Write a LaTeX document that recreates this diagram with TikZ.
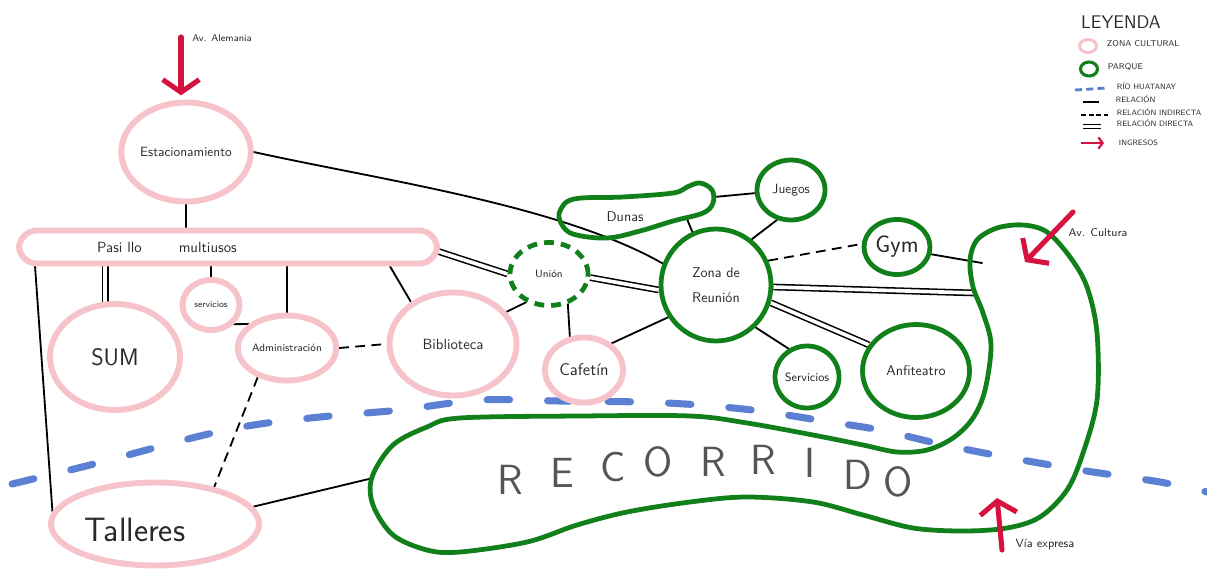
\documentclass[tikz,border=0pt]{standalone}
\usetikzlibrary{shapes.geometric,arrows.meta,calc}
\pgfdeclarelayer{bottom}
\pgfdeclarelayer{back}
\pgfsetlayers{bottom,back,main}
\definecolor{zpink}{HTML}{F7C3CB}
\definecolor{zgreen}{HTML}{12801A}
\definecolor{zblue}{HTML}{5B7FD3}
\definecolor{zred}{HTML}{D6123F}
\definecolor{ztext}{HTML}{2A2A2A}
\definecolor{zrec}{HTML}{555555}
\begin{document}
\begin{tikzpicture}[x=0.025cm,y=-0.025cm,
  every node/.style={font=\sffamily, text=ztext},
  fs/.style={font=\sffamily\fontsize{#1}{#1}\selectfont},
  sz/.style 2 args={minimum width=#1*0.025cm, minimum height=#2*0.025cm},
  cultural/.style={ellipse, draw=zpink, line width=4.2pt, inner sep=0pt},
  parque/.style={ellipse, draw=zgreen, line width=3.4pt, inner sep=0pt},
  conn/.style={draw=black, line width=1.3pt, line cap=round},
  indirecta/.style={draw=black, line width=1.3pt, dash pattern=on 7pt off 4.5pt},
  directa/.style={draw=black, line width=1.1pt, double=white, double distance=2.6pt},
  ingreso/.style={draw=zred, line width=3.6pt, line cap=round, -{Straight Barb[length=9pt,width=26pt]}},
  rio/.style={draw=zblue, line width=5pt, line cap=round, dash pattern=on 16pt off 27pt}]

\begin{pgfonlayer}{bottom}
\fill[white] (0,0) rectangle (1207,570);
\end{pgfonlayer}
\useasboundingbox (0,0) rectangle (1207,570);

% river
\draw[rio] plot[smooth] coordinates {(12,484) (90,465) (200,436) (260,424) (330,416) (400,410) (480,400) (560,401) (640,402) (700,405) (760,411) (830,422) (880,430) (940,444) (1000,456) (1080,470) (1160,482) (1207,492)};

% cultural zones
\node[cultural, sz={128}{99}, fs=9.5] (est) at (186,152) {Estacionamiento};
\node[draw=zpink, line width=4.2pt, rounded corners=0.45cm, sz={418}{33}] (pas) at (228,247) {};
\node[fs=10.5] (pastxt) at (167,247) {Pasi llo\hspace{2.5em}multiusos};
\node[cultural, sz={130}{106}, fs=17] (sum) at (115,357) {SUM};
\node[cultural, sz={57}{50}, fs=6.5] (s1) at (211,305) {servicios};
\node[cultural, sz={87}{65}, fs=7.5] (adm) at (287,348) {Administración};
\node[cultural, sz={127}{103}, fs=10.5] (bib) at (453,344) {Biblioteca};
\node[cultural, sz={78}{65}, fs=12] (caf) at (584,370) {Cafetín};
\node[cultural, sz={208}{83}] (tal) at (155,524) {};
\node[fs=24] (taltxt) at (135,530) {Talleres};

% parks
\node[parque, sz={78}{63}, fs=7.5, dash pattern=on 7pt off 5pt] (un) at (549,274) {Unión};
\node[parque, sz={68}{60}, fs=9.5] (jue) at (791,190) {Juegos};
\node[parque, sz={110}{112}, fs=10, align=center, font=\sffamily\fontsize{10}{18}\selectfont] (zona) at (716,285) {Zona de\\Reunión};
\node[parque, sz={64}{62}, fs=8.5] (s2) at (807,377) {Servicios};
\node[parque, sz={66}{55}, fs=17] (gym) at (897,247) {Gym};
\node[parque, sz={107}{93}, fs=10] (anf) at (916,371) {Anfiteatro};

% Dunas blob
\draw[zgreen, line width=3.4pt] plot[smooth cycle, tension=0.6] coordinates {(560,211) (574,199) (623,197) (673,193) (687,187) (700,183) (712,190) (713,203) (703,213) (673,221) (640,231) (607,238) (573,234) (561,223)};
\node[fs=10] (dunas) at (625,217) {Dunas};
\coordinate (dunasB) at (687,219);
\coordinate (dunasR) at (714,197);

% Recorrido shape
\draw[zgreen, line width=3.4pt] plot[smooth cycle, tension=0.55] coordinates {(372,477) (393,445) (427,427) (460,418) (580,416) (690,416) (747,423) (813,435) (863,445) (897,452) (927,450) (953,438) (973,418) (985,390) (991,345) (983,313) (973,287) (970,260) (977,240) (997,228) (1023,225) (1047,232) (1070,257) (1087,287) (1097,333) (1097,400) (1083,453) (1067,490) (1040,517) (1007,528) (963,531) (913,528) (863,515) (813,502) (747,497) (690,502) (627,512) (577,525) (527,542) (460,552) (427,550) (393,535) (373,505)};
\coordinate (recL) at (373,478);
\coordinate (uGym) at (982,263);
\coordinate (uZona) at (975,293);
\foreach \c/\x/\y [count=\i] in {R/510/480, E/562/473, C/613/467, O/658/462, R/713/462, R/763/460, I/810/463, D/858/475, O/898/482}
  \node[fs=30, text=zrec] (rc\i) at (\x,\y) {\c};

% connectors
\begin{pgfonlayer}{back}
\draw[conn] (est.east) .. controls (380,180) and (560,205) .. (zona.158);
\draw[conn] (est.south) -- (est.south |- pas.north);
\draw[conn] ($(pas.south west)+(19,0)$) -- (tal.173);
\draw[directa] (sum.100) -- (sum.100 |- pas.south);
\draw[conn] (s1.north) -- (s1.north |- pas.south);
\draw[conn] (adm.north) -- (adm.north |- pas.south);
\draw[conn] ($(pas.south west)+(374,0)$) -- (bib.135);
\draw[directa] ($(pas.east)+(-3,4)$) -- (un.west);
\draw[conn] (s1.-40) -- (adm.148);
\draw[indirecta] (adm.east) -- (bib.west);
\draw[indirecta] (adm.-135) -- (tal.32);
\draw[conn] (bib.31) -- (un.231);
\draw[conn] (un.-58) -- (caf.113);
\draw[directa] (un.-5) -- (zona.185);
\draw[conn] (caf.44) -- (zona.214);
\draw[conn] (dunasB) -- (zona.114);
\draw[conn] (dunasR) -- (jue.185);
\draw[conn] (jue.245) -- (zona.52);
\draw[indirecta] (zona.25) -- (gym.175);
\draw[conn] (gym.-12) -- (uGym);
\draw[directa] (zona.-2) -- (uZona);
\draw[directa] (zona.-18) -- (anf.151);
\draw[conn] (zona.-47) -- (s2.123);
\draw[conn] (tal.10) -- (recL);
\end{pgfonlayer}

% entrances
\coordinate (aleT) at (181,37);
\draw[ingreso, shorten >=3pt] (aleT) -- (est.north -| aleT);
\node[fs=7] (lalem) at (222,38) {Av. Alemania};
\coordinate (culT) at (1073,212);
\coordinate (culH) at (1025,262);
\draw[ingreso] (culT) -- (culH);
\node[fs=8] (lcult) at (1098,233) {Av. Cultura};
\coordinate (viaT) at (1002,550);
\coordinate (viaH) at (997,498);
\draw[ingreso] (viaT) -- (viaH);
\node[fs=8.5] (lvia) at (1045,545) {Vía expresa};

% legend
\node[fs=13] (leg) at (1121,22) {LEYENDA};
\node[ellipse, draw=zpink, line width=2.2pt, sz={17}{13}, inner sep=0pt] (lg1) at (1088,46) {};
\node[fs=6, anchor=west] (lt1) at (1102,44) {ZONA CULTURAL};
\node[ellipse, draw=zgreen, line width=2.2pt, sz={17}{14}, inner sep=0pt] (lg2) at (1089,69) {};
\node[fs=6, anchor=west] (lt2) at (1103,67) {PARQUE};
\draw[zblue, line width=2pt, dash pattern=on 5pt off 3pt] (1075,90) -- (1107,88);
\node[fs=5.5, anchor=west] (lt3) at (1112,86) {RÍO HUATANAY};
\draw[black, line width=1.4pt] (1083,102) -- (1099,102);
\node[fs=5.5, anchor=west] (lt4) at (1111,99) {RELACIÓN};
\draw[black, line width=1.4pt, dash pattern=on 3.5pt off 2pt] (1081,115) -- (1108,115);
\node[fs=5.5, anchor=west] (lt5) at (1112,112) {RELACIÓN INDIRECTA};
\draw[black, line width=1.3pt] (1083,124.5) -- (1101,124.5);
\draw[black, line width=1.3pt] (1083,128.5) -- (1101,128.5);
\node[fs=5.5, anchor=west] (lt6) at (1112,123) {RELACIÓN DIRECTA};
\draw[zred, line width=1.6pt, -{Straight Barb[length=3pt,width=8pt]}] (1081,143) -- (1104,143);
\node[fs=5.5, anchor=west] (lt7) at (1114,143) {INGRESOS};
\end{tikzpicture}
\end{document}
